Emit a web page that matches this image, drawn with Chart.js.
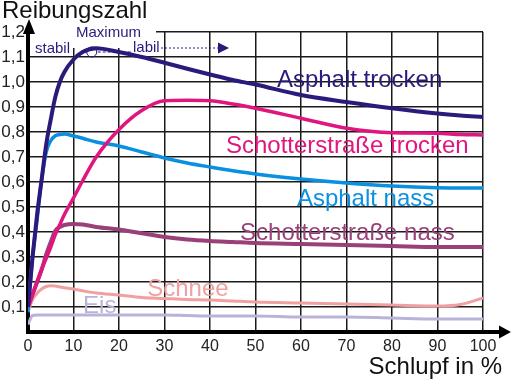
<!DOCTYPE html>
<html>
<head>
<meta charset="utf-8">
<script src="https://cdn.jsdelivr.net/npm/chart.js@4"></script>
<style>
  html, body { margin: 0; padding: 0; background: #fff; }
  #wrap { width: 513px; height: 381px; }
</style>
</head>
<body>
<div id="wrap"><canvas id="chart"></canvas></div>
<script>
// Schlupf in % (shared x values for all curves)
const slip = [0, 1, 2, 3, 4, 5, 6, 7, 8, 10, 12, 15, 20, 25, 30, 35, 40, 45, 50, 60, 70, 80, 90, 95, 100];

const asphaltTrocken = [0.10, 0.30, 0.47, 0.61, 0.75, 0.85, 0.94, 1.00, 1.04, 1.09, 1.12, 1.135, 1.12, 1.10, 1.077, 1.053, 1.03, 1.008, 0.99, 0.948, 0.92, 0.895, 0.874, 0.866, 0.86];
const schotterTrocken = [0.10, 0.15, 0.20, 0.25, 0.295, 0.34, 0.39, 0.43, 0.47, 0.536, 0.605, 0.70, 0.81, 0.886, 0.925, 0.927, 0.925, 0.912, 0.895, 0.855, 0.815, 0.797, 0.795, 0.79, 0.788];
const asphaltNass = [0.08, 0.30, 0.45, 0.61, 0.72, 0.765, 0.785, 0.79, 0.792, 0.784, 0.775, 0.76, 0.744, 0.72, 0.696, 0.676, 0.66, 0.645, 0.632, 0.612, 0.596, 0.584, 0.577, 0.576, 0.576];
const schotterNass = [0.10, 0.15, 0.20, 0.25, 0.31, 0.36, 0.405, 0.42, 0.428, 0.432, 0.43, 0.42, 0.41, 0.395, 0.38, 0.37, 0.364, 0.36, 0.356, 0.352, 0.348, 0.344, 0.34, 0.34, 0.34];
const schnee = [0.08, 0.13, 0.155, 0.172, 0.182, 0.185, 0.184, 0.18, 0.177, 0.172, 0.165, 0.156, 0.148, 0.138, 0.134, 0.13, 0.128, 0.124, 0.12, 0.116, 0.112, 0.108, 0.104, 0.11, 0.136];
const eis = [0.03, 0.066, 0.068, 0.068, 0.068, 0.068, 0.068, 0.068, 0.068, 0.068, 0.068, 0.068, 0.068, 0.068, 0.068, 0.066, 0.064, 0.064, 0.064, 0.06, 0.06, 0.056, 0.052, 0.052, 0.052];

// tick values
const yTicks = [0.1, 0.2, 0.3, 0.4, 0.5, 0.6, 0.7, 0.8, 0.9, 1.0, 1.1, 1.2];
const xTicks = [0, 10, 20, 30, 40, 50, 60, 70, 80, 90, 100];

const FONT = '"Liberation Sans", Arial, sans-serif';
const NAVY = '#2b1a7c';

function toPoints(values) {
    return slip.map((s, i) => ({ x: s, y: values[i] }));
}

// curve labels: text, colour, anchor (data units, left / baseline)
const curveLabels = [
    { text: 'Asphalt trocken', color: NAVY, x: 54.7, y: 0.98 },
    { text: 'Schotterstraße trocken', color: '#e0157e', x: 43.5, y: 0.716 },
    { text: 'Asphalt nass', color: '#0a90e0', x: 59.1, y: 0.504 },
    { text: 'Schotterstraße nass', color: '#9a4078', x: 46.6, y: 0.368 },
    { text: 'Schnee', color: '#f0a0a0', x: 26.2, y: 0.144 },
    { text: 'Eis', color: '#b9b3da', x: 12.1, y: 0.076 },
];

const decorations = {
    id: 'decorations',
    beforeDatasetsDraw(chart) {
        const ctx = chart.ctx;
        // white patch behind the stabil / Maximum / labil notes
        ctx.save();
        ctx.fillStyle = '#fff';
        ctx.fillRect(31, 19, 125, 29);
        ctx.restore();
    },
    afterDraw(chart) {
        const ctx = chart.ctx;
        const xs = chart.scales.x;
        const ys = chart.scales.y;
        const area = chart.chartArea;
        ctx.save();

        // axis arrows
        ctx.fillStyle = '#000';
        ctx.strokeStyle = '#000';
        ctx.lineWidth = 4;
        ctx.beginPath();
        ctx.moveTo(area.left, area.top);
        ctx.lineTo(area.left, area.top - 6);
        ctx.moveTo(area.right, area.bottom);
        ctx.lineTo(area.right + 18, area.bottom);
        ctx.stroke();
        ctx.beginPath();
        ctx.moveTo(area.left + 1, 19);
        ctx.lineTo(area.left - 5, 34);
        ctx.lineTo(area.left + 7, 34);
        ctx.closePath();
        ctx.fill();
        ctx.beginPath();
        ctx.moveTo(area.right + 28, area.bottom);
        ctx.lineTo(area.right + 16, area.bottom - 6.5);
        ctx.lineTo(area.right + 16, area.bottom + 6.5);
        ctx.closePath();
        ctx.fill();

        // axis titles
        ctx.fillStyle = '#111';
        ctx.font = '24px ' + FONT;
        ctx.textBaseline = 'alphabetic';
        ctx.textAlign = 'left';
        ctx.fillText('Reibungszahl', 2, 18);
        ctx.textAlign = 'right';
        ctx.fillText('Schlupf in %', 502, 374);

        // curve labels
        ctx.textAlign = 'left';
        curveLabels.forEach((l) => {
            ctx.fillStyle = l.color;
            ctx.fillText(l.text, xs.getPixelForValue(l.x), ys.getPixelForValue(l.y));
        });

        // stabil / Maximum / labil notes
        ctx.fillStyle = NAVY;
        ctx.strokeStyle = NAVY;
        ctx.font = '15px ' + FONT;
        ctx.fillText('stabil', 35, 53);
        ctx.fillText('Maximum', 76, 37);
        ctx.fillText('labil', 133, 52);

        const cx = xs.getPixelForValue(14);
        const cy = ys.getPixelForValue(1.12);
        ctx.lineWidth = 1;
        ctx.beginPath();
        ctx.arc(cx, cy, 5, 0, Math.PI * 2);
        ctx.stroke();

        ctx.setLineDash([3, 2]);
        ctx.beginPath();
        ctx.moveTo(cx + 6, cy);
        ctx.lineTo(131, cy);
        ctx.stroke();
        ctx.setLineDash([2, 2]);
        ctx.beginPath();
        ctx.moveTo(161, 48);
        ctx.lineTo(218, 48);
        ctx.stroke();
        ctx.setLineDash([]);
        ctx.beginPath();
        ctx.moveTo(229, 48);
        ctx.lineTo(218, 42.5);
        ctx.lineTo(218, 53.5);
        ctx.closePath();
        ctx.fill();

        ctx.restore();
    }
};

function series(label, values, color, width) {
    return {
        label: label,
        data: toPoints(values),
        borderColor: color,
        borderWidth: width,
        pointRadius: 0,
        fill: false,
        cubicInterpolationMode: 'monotone',
    };
}

new Chart(document.getElementById('chart'), {
    type: 'line',
    data: {
        datasets: [
            series('Asphalt trocken', asphaltTrocken, NAVY, 4),
            series('Schotterstraße trocken', schotterTrocken, '#e0157e', 3.5),
            series('Asphalt nass', asphaltNass, '#0a90e0', 3.5),
            series('Schotterstraße nass', schotterNass, '#9a4078', 4),
            series('Schnee', schnee, '#f0a0a0', 3),
            series('Eis', eis, '#b9b3da', 3),
        ],
    },
    options: {
        responsive: true,
        maintainAspectRatio: false,
        animation: false,
        layout: {
            padding: { top: 32, right: 30, left: 0, bottom: 0 },
        },
        plugins: {
            legend: { display: false },
            tooltip: { enabled: false },
        },
        scales: {
            x: {
                type: 'linear',
                min: 0,
                max: 100,
                afterBuildTicks: (scale) => {
                    scale.ticks = xTicks.map((v) => ({ value: v }));
                },
                afterFit: (scale) => { scale.height = 49; },
                grid: { color: '#1a1a1a', lineWidth: 1.5, drawTicks: false },
                border: { color: '#000', width: 4 },
                ticks: {
                    color: '#222',
                    padding: 5,
                    maxRotation: 0,
                    font: { family: FONT, size: 16 },
                },
            },
            y: {
                type: 'linear',
                min: 0,
                max: 1.2,
                afterBuildTicks: (scale) => {
                    scale.ticks = [{ value: 0 }].concat(yTicks.map((v) => ({ value: v })));
                },
                afterFit: (scale) => { scale.width = 28; },
                grid: { color: '#1a1a1a', lineWidth: 1.5, drawTicks: false },
                border: { color: '#000', width: 4 },
                ticks: {
                    color: '#222',
                    padding: 3,
                    font: { family: FONT, size: 17 },
                    callback: (v) => v === 0 ? '' : v.toFixed(1).replace('.', ','),
                },
            },
        },
    },
    plugins: [decorations],
});
</script>
</body>
</html>
